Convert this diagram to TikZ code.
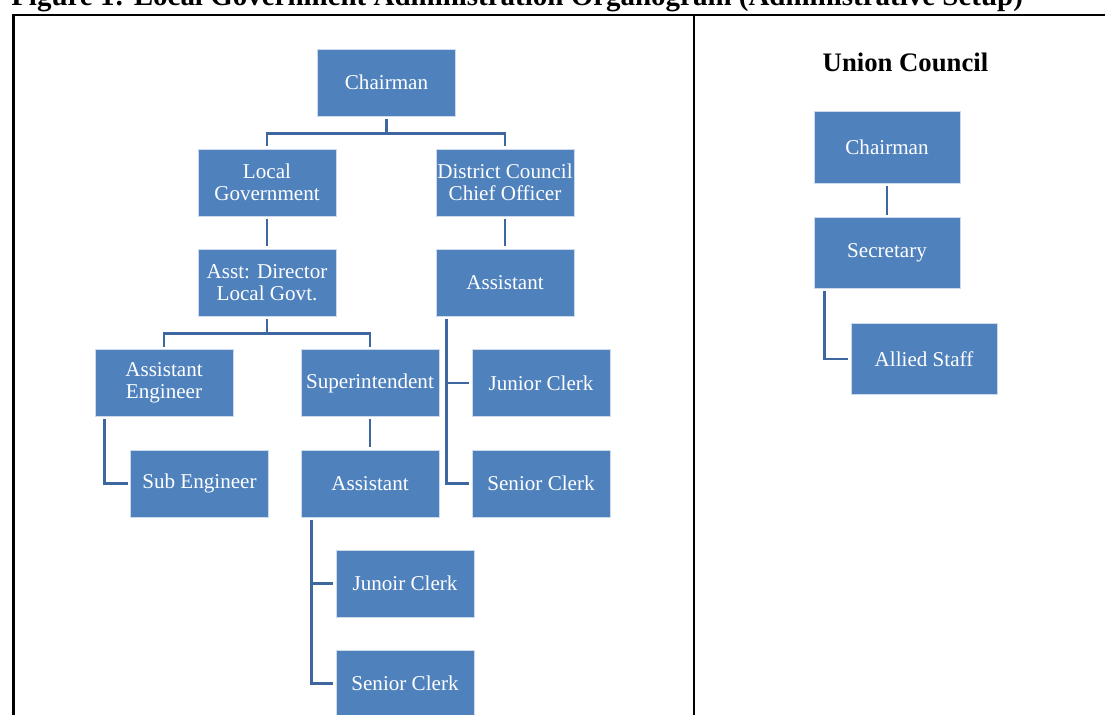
\documentclass[tikz,border=0pt]{standalone}
\usepackage{fontspec}
\setmainfont{Liberation Serif}
\usetikzlibrary{positioning}
\definecolor{boxblue}{RGB}{79,129,189}
\definecolor{lineblue}{RGB}{62,103,160}
\definecolor{boxedge}{RGB}{205,218,236}

\begin{document}
\begin{tikzpicture}[x=0.025cm,y=-0.025cm,
  post/.style={rectangle,fill=boxblue,draw=boxedge,line width=0.6pt,text=white,
    minimum width=3.45cm,minimum height=1.675cm,inner sep=1pt,outer sep=1.8pt,
    align=center,font=\fontsize{15}{15.5}\selectfont},
  bigpost/.style={post,minimum width=3.65cm,minimum height=1.78cm},
  conn/.style={draw=lineblue,line width=2.1pt},
  frame/.style={draw=black,line width=1.6pt}]
\useasboundingbox (0,0) rectangle (1105,715);
\clip (0,0) rectangle (1105,715);

\node[anchor=base west,inner xsep=0pt,font=\bfseries\fontsize{20.6}{20.6}\selectfont] (title) at (11,6) {Figure 1: Local Government Administration Organogram (Administrative Setup)};
\draw[frame] (1130,15) -- (13.5,15) -- (13.5,740);
\draw[frame,line width=1.3pt] (694,15) -- (694,740);

% district setup
\node[post] (chair) at (386.5,82.5) {Chairman};
\node[post] (lg) at (267,182.5) {Local\\Government};
\node[post] (dcco) at (505,182.5) {District Council\\Chief Officer};
\node[post] (adlg) at (267,282.5) {Asst: Director\\Local Govt.};
\node[post] (asr) at (505,282.5) {Assistant};
\node[post] (ae) at (164,383) {Assistant\\Engineer};
\node[post] (supt) at (370,383) {Superintendent};
\node[post] (jcr) at (541,383) {Junior Clerk};
\node[post] (se) at (199.5,483.5) {Sub Engineer};
\node[post] (asm) at (370,483.5) {Assistant};
\node[post] (scr) at (541,483.5) {Senior Clerk};
\node[post] (jcm) at (405,583.5) {Junoir Clerk};
\node[post] (scm) at (405,683.5) {Senior Clerk};

\draw[conn] (chair.south) -- ++(0,15) coordinate (c1) -| (lg.north);
\draw[conn] (c1) -| (dcco.north);
\draw[conn] (lg) -- (adlg);
\draw[conn] (dcco) -- (asr);
\draw[conn] (adlg.south) -- ++(0,15) coordinate (c2) -| (ae.north);
\draw[conn] (c2) -| (supt.north);
\draw[conn] (supt) -- (asm);
\draw[conn] (ae.south west) ++(12,0) |- (se.west);
\draw[conn] (asr.south west) ++(13,0) |- (jcr.west);
\draw[conn] (asr.south west) ++(13,0) |- (scr.west);
\draw[conn] (asm.south west) ++(13,0) |- (jcm.west);
\draw[conn] (asm.south west) ++(13,0) |- (scm.west);

% union council
\node[anchor=base,font=\bfseries\fontsize{19}{19}\selectfont] (uc) at (905.5,72) {Union Council};
\node[bigpost] (ucchair) at (887,147.5) {Chairman};
\node[bigpost] (sec) at (887,253) {Secretary};
\node[bigpost] (allied) at (924,359) {Allied Staff};
\draw[conn] (ucchair) -- (sec);
\draw[conn] (sec.south west) ++(13,0) |- (allied.west);

\end{tikzpicture}
\end{document}
